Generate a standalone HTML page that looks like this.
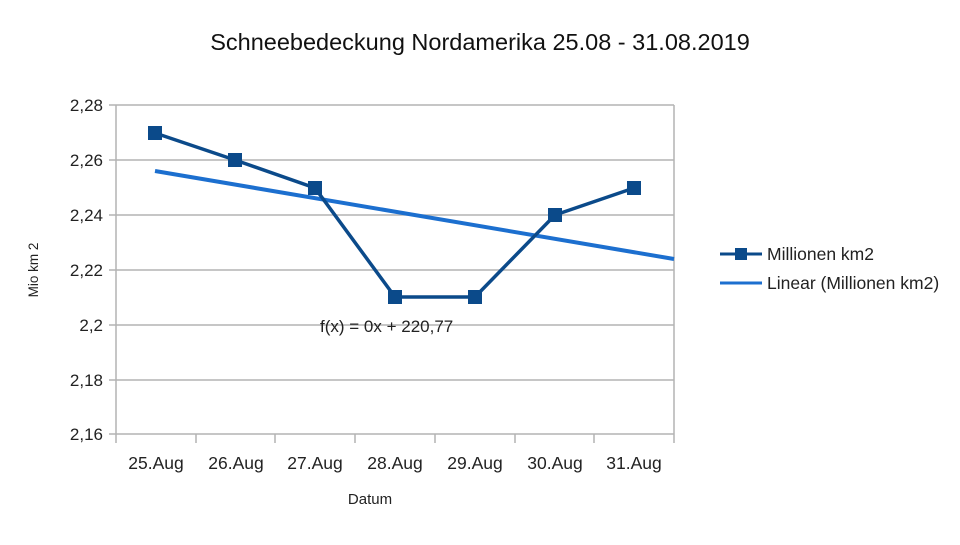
<!DOCTYPE html>
<html><head><style>body{margin:0;background:#fff}</style></head><body>
<svg width="960" height="540" xmlns="http://www.w3.org/2000/svg" font-family="Liberation Sans, sans-serif">
<text x="480" y="50" text-anchor="middle" font-size="23.5" fill="#111">Schneebedeckung Nordamerika 25.08 - 31.08.2019</text>
<g stroke="#b3b3b3" stroke-width="1.5">
<line x1="109" y1="105" x2="674" y2="105"/><line x1="109" y1="160" x2="674" y2="160"/>
<line x1="109" y1="215" x2="674" y2="215"/><line x1="109" y1="270" x2="674" y2="270"/>
<line x1="109" y1="325" x2="674" y2="325"/><line x1="109" y1="380" x2="674" y2="380"/>
<line x1="109" y1="434" x2="674" y2="434"/>
<line x1="116" y1="105" x2="116" y2="443"/><line x1="674" y1="105" x2="674" y2="443"/>
<line x1="196" y1="434" x2="196" y2="443"/><line x1="275" y1="434" x2="275" y2="443"/>
<line x1="355" y1="434" x2="355" y2="443"/><line x1="435" y1="434" x2="435" y2="443"/>
<line x1="515" y1="434" x2="515" y2="443"/><line x1="594" y1="434" x2="594" y2="443"/>
</g>
<g font-size="17" fill="#222" text-anchor="end">
<text x="103" y="111">2,28</text><text x="103" y="166">2,26</text><text x="103" y="221">2,24</text>
<text x="103" y="276">2,22</text><text x="103" y="331">2,2</text><text x="103" y="386">2,18</text><text x="103" y="440">2,16</text>
</g>
<g font-size="17.5" fill="#222" text-anchor="middle">
<text x="156" y="469">25.Aug</text><text x="236" y="469">26.Aug</text><text x="315" y="469">27.Aug</text>
<text x="395" y="469">28.Aug</text><text x="475" y="469">29.Aug</text><text x="555" y="469">30.Aug</text><text x="634" y="469">31.Aug</text>
<text x="370" y="504" font-size="15">Datum</text>
</g>
<text x="38" y="270" font-size="13.5" fill="#222" text-anchor="middle" transform="rotate(-90 38 270)">Mio km 2</text>
<line x1="155" y1="171" x2="674" y2="259" stroke="#1c6fcf" stroke-width="4"/>
<polyline points="155,133 235,160 315,188 395,297 475,297 555,215 634,188" fill="none" stroke="#0b4a8a" stroke-width="3.5"/>
<g fill="#0b4a8a">
<rect x="148" y="126" width="14" height="14"/><rect x="228" y="153" width="14" height="14"/>
<rect x="308" y="181" width="14" height="14"/><rect x="388" y="290" width="14" height="14"/>
<rect x="468" y="290" width="14" height="14"/><rect x="548" y="208" width="14" height="14"/>
<rect x="627" y="181" width="14" height="14"/>
</g>
<text x="320" y="332" font-size="17" fill="#222">f(x) = 0x + 220,77</text>
<line x1="720" y1="254" x2="762" y2="254" stroke="#0b4a8a" stroke-width="3"/>
<rect x="735" y="248" width="12" height="12" fill="#0b4a8a"/>
<text x="767" y="260" font-size="17.5" fill="#222">Millionen km2</text>
<line x1="720" y1="283" x2="762" y2="283" stroke="#1c6fcf" stroke-width="3"/>
<text x="767" y="289" font-size="17.5" fill="#222">Linear (Millionen km2)</text>
</svg>
</body></html>
